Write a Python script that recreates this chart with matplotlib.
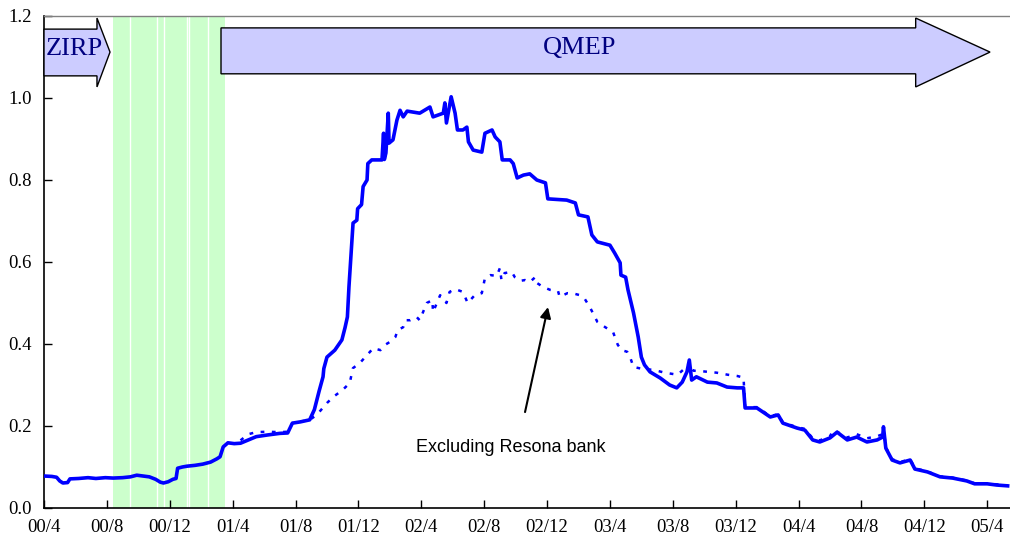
import matplotlib
matplotlib.use("Agg")
import matplotlib.pyplot as plt
from matplotlib.patches import Polygon

# ---- data (x in months since 2000/4) ----
tick_labels = ["00/4", "00/8", "00/12", "01/4", "01/8", "01/12", "02/4", "02/8",
               "02/12", "03/4", "03/8", "03/12", "04/4", "04/8", "04/12", "05/4"]
tick_months = [0, 4, 8, 12, 16, 20, 24, 28, 32, 36, 40, 44, 48, 52, 56, 60]
y_ticks = [0.0, 0.2, 0.4, 0.6, 0.8, 1.0, 1.2]

total_m = [0.0, 0.5, 0.8, 1.0, 1.2, 1.5, 1.65, 2.2, 2.8, 3.3, 3.9, 4.4, 5.0, 5.5, 5.9,
           6.3, 6.7, 7.1, 7.4, 7.6, 7.9, 8.2, 8.4, 8.5, 8.8, 9.1, 9.6, 10.1, 10.6, 11.0,
           11.2, 11.4, 11.7, 12.1, 12.5, 13.0, 13.5, 14.2, 15.0, 15.5, 15.8, 16.3, 16.9,
           17.2, 17.5, 17.75, 17.8, 18.0, 18.5, 18.95, 19.15, 19.3, 19.4, 19.55, 19.66,
           19.9, 19.95, 20.2, 20.3, 20.55, 20.6, 20.85, 21.5, 21.6, 21.65, 21.75, 21.9,
           21.95, 22.2, 22.45, 22.65, 22.85, 23.1, 23.9, 24.55, 24.75, 25.4, 25.5, 25.6,
           25.9, 26.15, 26.3, 26.65, 26.9, 27.0, 27.3, 27.85, 28.05, 28.5, 28.7, 29.0,
           29.15, 29.65, 29.85, 30.1, 30.5, 30.9, 31.35, 31.9, 32.05, 33.25, 33.8, 34.0,
           34.6, 34.85, 35.2, 36.0, 36.3, 36.65, 36.7, 37.0, 37.15, 37.5, 37.8, 38.0,
           38.2, 38.55, 39.2, 39.8, 40.25, 40.6, 40.9, 41.05, 41.2, 41.5, 42.2, 42.8,
           43.45, 44.1, 44.5, 44.6, 45.35, 46.2, 46.7, 47.0, 47.9, 48.4, 48.9, 49.35,
           50.0, 50.45, 51.1, 51.7, 52.35, 53.0, 53.35, 53.4, 53.55, 53.95, 54.45, 55.1,
           55.4, 56.2, 57.0, 57.8, 58.7, 59.2, 60.0, 60.6, 61.3]
total_v = [0.078, 0.077, 0.075, 0.066, 0.061, 0.062, 0.071, 0.072, 0.074, 0.072, 0.074,
           0.073, 0.074, 0.076, 0.080, 0.078, 0.076, 0.070, 0.063, 0.061, 0.064, 0.070,
           0.072, 0.097, 0.100, 0.102, 0.104, 0.107, 0.112, 0.120, 0.125, 0.149, 0.159,
           0.157, 0.158, 0.166, 0.174, 0.178, 0.182, 0.183, 0.207, 0.210, 0.215, 0.240,
           0.285, 0.320, 0.340, 0.368, 0.385, 0.410, 0.440, 0.466, 0.540, 0.630, 0.695,
           0.702, 0.730, 0.740, 0.784, 0.800, 0.840, 0.849, 0.849, 0.914, 0.850, 0.866,
           0.963, 0.890, 0.898, 0.946, 0.970, 0.954, 0.968, 0.963, 0.978, 0.954, 0.963,
           0.988, 0.939, 1.003, 0.963, 0.922, 0.922, 0.929, 0.893, 0.873, 0.868, 0.914,
           0.922, 0.905, 0.893, 0.849, 0.849, 0.840, 0.805, 0.812, 0.815, 0.800, 0.793,
           0.754, 0.751, 0.744, 0.715, 0.710, 0.666, 0.649, 0.641, 0.622, 0.598, 0.568,
           0.563, 0.532, 0.476, 0.417, 0.368, 0.349, 0.332, 0.317, 0.300, 0.293, 0.307,
           0.332, 0.361, 0.312, 0.320, 0.307, 0.305, 0.295, 0.293, 0.293, 0.244, 0.244,
           0.222, 0.227, 0.207, 0.195, 0.190, 0.166, 0.161, 0.171, 0.185, 0.166, 0.173,
           0.161, 0.166, 0.173, 0.198, 0.146, 0.117, 0.110, 0.117, 0.095, 0.088, 0.076,
           0.073, 0.066, 0.059, 0.059, 0.056, 0.054]

excl_m = [12.5, 13.0, 13.5, 14.2, 15.0, 15.5, 15.8, 16.9, 17.35, 18.0, 18.4, 19.0, 19.45,
          19.65, 20.1, 20.55, 20.95, 21.4, 21.7, 22.0, 22.35, 22.5, 22.85, 23.0, 23.3,
          23.7, 23.9, 24.35, 24.7, 24.75, 25.2, 25.6, 25.8, 26.15, 26.65, 26.95, 27.4,
          27.85, 28.05, 28.4, 28.8, 29.0, 29.1, 29.3, 29.75, 29.95, 30.3, 30.6, 30.9,
          31.25, 31.35, 31.75, 32.2, 32.7, 32.8, 33.3, 33.8, 34.1, 34.4, 34.75, 35.2,
          35.7, 36.2, 36.5, 36.75, 37.1, 37.3, 37.5, 38.1, 38.75, 39.5, 40.3, 40.9, 41.05,
          41.3, 42.0, 42.8, 43.5, 44.1, 44.5, 44.6, 45.35, 46.2, 46.7, 47.0, 47.9, 48.4,
          48.9, 49.35, 50.0, 50.2, 50.45, 51.1, 51.7, 52.35, 53.0, 53.35, 53.4, 53.55,
          53.95, 54.45, 55.1, 55.4, 56.2, 57.0, 57.8, 58.7, 59.2, 60.0, 61.3]
excl_v = [0.165, 0.180, 0.185, 0.186, 0.185, 0.186, 0.207, 0.215, 0.227, 0.256, 0.271,
          0.288, 0.305, 0.341, 0.354, 0.373, 0.390, 0.385, 0.398, 0.405, 0.417, 0.434,
          0.441, 0.458, 0.458, 0.466, 0.458, 0.500, 0.507, 0.478, 0.519, 0.500, 0.527,
          0.534, 0.527, 0.500, 0.519, 0.524, 0.561, 0.568, 0.566, 0.585, 0.556, 0.573,
          0.576, 0.563, 0.554, 0.556, 0.551, 0.563, 0.549, 0.539, 0.532, 0.529, 0.515,
          0.524, 0.522, 0.519, 0.510, 0.488, 0.454, 0.441, 0.429, 0.398, 0.385, 0.381,
          0.366, 0.344, 0.339, 0.337, 0.330, 0.325, 0.345, 0.356, 0.335, 0.333, 0.330,
          0.325, 0.322, 0.318, 0.246, 0.246, 0.224, 0.229, 0.209, 0.197, 0.193, 0.170,
          0.165, 0.175, 0.190, 0.186, 0.172, 0.180, 0.170, 0.175, 0.180, 0.198, 0.148,
          0.119, 0.112, 0.119, 0.097, 0.089, 0.077, 0.074, 0.067, 0.060, 0.060, 0.055]

# shaded period (between ZIRP and QMEP) and the white separators inside it
shade_start, shade_end = 4.39, 11.51
shade_gaps = [5.50, 7.16, 7.61, 9.08, 9.24, 10.41]

annot_text = "Excluding Resona bank"
annot_xy = (32.06, 0.49)
annot_text_xy = (30.6, 0.234)

# ---- figure ----
fig = plt.figure(figsize=(10.10, 5.44), dpi=100)
ax = fig.add_axes([44 / 1010, 36 / 544, 1 - 44 / 1010, 492 / 544])

ax.axvspan(shade_start, shade_end, color="#ccffcc", lw=0, zorder=0)
for g in shade_gaps:
    ax.axvline(g, color="white", lw=1.0, zorder=0.5)

ax.plot(excl_m, excl_v, color="#0000ff", lw=1.8, ls=(0, (1.5, 3)), zorder=2)
ax.plot(total_m, total_v, color="#0000ff", lw=2.6, zorder=3)

# arrows (policy regimes)
zirp = Polygon([(0, 1.054), (3.37, 1.054), (3.37, 1.027), (4.2, 1.112), (3.37, 1.195),
                (3.37, 1.168), (0, 1.168)], closed=True, facecolor="#ccccff",
               edgecolor="black", lw=1.0, zorder=4, clip_on=False)
qmep = Polygon([(11.26, 1.059), (55.45, 1.059), (55.45, 1.027), (60.18, 1.112),
                (55.45, 1.195), (55.45, 1.171), (11.26, 1.171)], closed=True,
               facecolor="#ccccff", edgecolor="black", lw=1.0, zorder=4)
ax.add_patch(zirp)
ax.add_patch(qmep)
ax.text(1.9, 1.12, "ZIRP", fontsize=19, family="Liberation Serif", color="#000080",
        ha="center", va="center", zorder=5)
ax.text(34.1, 1.122, "QMEP", fontsize=19, family="Liberation Serif", color="#000080",
        ha="center", va="center", zorder=5)

ax.annotate("", xy=annot_xy, xytext=annot_text_xy,
            arrowprops=dict(arrowstyle="-|>", color="black", lw=1.5,
                            mutation_scale=16, shrinkA=0, shrinkB=0), zorder=6)
ax.text(29.7, 0.148, annot_text, fontsize=13, family="Liberation Sans",
        ha="center", va="center", color="black")

ax.set_xlim(0, 61.45)
ax.set_ylim(0, 1.2)
ax.set_xticks(tick_months)
ax.set_xticklabels(tick_labels)
ax.set_yticks(y_ticks)
ax.set_yticklabels([f"{v:.1f}" for v in y_ticks])
ax.tick_params(axis="both", direction="in", length=6, width=1.0, labelsize=13.5,
               colors="black")
ax.tick_params(axis="x", pad=8)
ax.tick_params(axis="y", pad=9)
for lab in ax.get_xticklabels() + ax.get_yticklabels():
    lab.set_family("Liberation Serif")

ax.spines["right"].set_visible(False)
ax.spines["top"].set_color("#808080")
ax.spines["top"].set_linewidth(1.0)
ax.spines["left"].set_linewidth(1.2)
ax.spines["bottom"].set_linewidth(1.2)

fig.savefig("out.png", dpi=100)
